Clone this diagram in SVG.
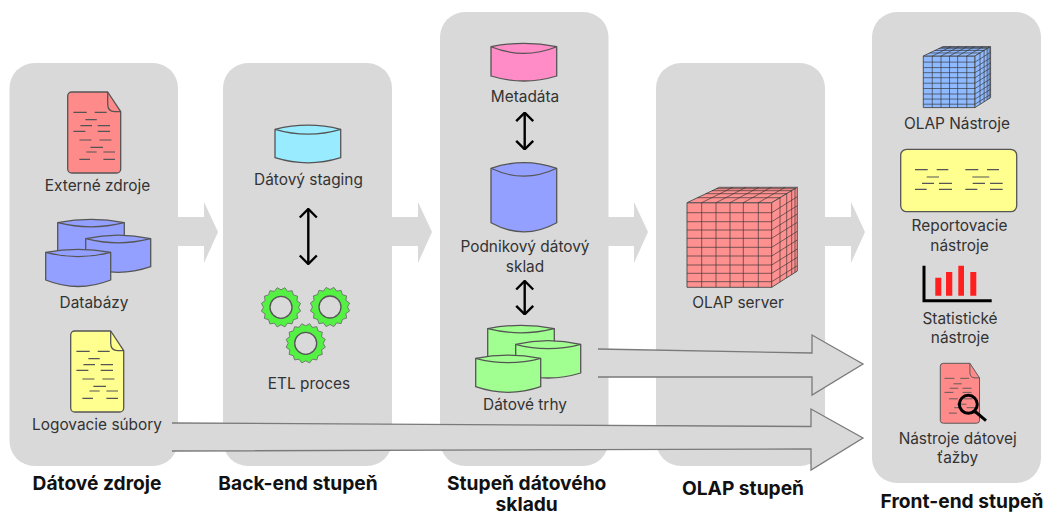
<svg xmlns="http://www.w3.org/2000/svg" xmlns:xlink="http://www.w3.org/1999/xlink" width="1045" height="513" viewBox="0 0 1045 513">
<style>
text{font-family:Inter,"Noto Sans","Liberation Sans",sans-serif;font-size:15.4px;fill:#333;text-anchor:middle}
text.b{font-weight:700;font-size:19.2px;fill:#111}
.panel{fill:#d9d9d9}
.flow{fill:#d9d9d9}
.edge{fill:none;stroke:#7a7a7a;stroke-width:1.3}
.s{stroke:#555;stroke-width:1.3;stroke-linejoin:round}
.ln{fill:none;stroke:#555;stroke-width:1.2}
.dbl{fill:none;stroke:#000;stroke-width:2.4}
.grid{fill:none;stroke:#333;stroke-width:1;stroke-opacity:.65;vector-effect:non-scaling-stroke}
.cubeface{stroke:#555;stroke-width:1;vector-effect:non-scaling-stroke}
.gear{fill:#55f044;stroke:#666;stroke-width:.8;stroke-linejoin:round}
</style>
<defs>
<marker id="open" viewBox="0 0 20 20" refX="19" refY="10" markerWidth="20" markerHeight="20" markerUnits="userSpaceOnUse" orient="auto-start-reverse"><path d="M10.500 1.500 19 10 10.500 18.500" fill="none" stroke="#000" stroke-width="2.400"/></marker>
<g id="doc">
<path class="s" d="M4 0H40L53 19.700V77a4 4 0 0 1-4 4H4a4 4 0 0 1-4-4V4a4 4 0 0 1 4-4Z"/>
<path class="s" fill="none" d="M40 0V12q0 7.700 7 7.700H53"/>
<path class="ln" d="M5.700 20.300H19M27 20.300H39M17.700 27.700H29M12.700 33.700H24.300M30 33.700H42.300M5.700 39.300H17.700M30 39.300H42.300M11.700 48H23.700M31.700 48H43.700M22.700 55.300H35.300M18.700 60H29M35.700 60H47.300M11.700 67.300H22.300M35.700 67.300H47.300"/>
</g>
<polygon id="gear" class="gear" points="17.500,0 19.600,3.900 15.900,6.600 16.600,11.100 12.400,12.400 11.100,16.600 6.600,15.900 3.900,19.600 0,17.500 -3.900,19.600 -6.600,15.900 -11.100,16.600 -12.400,12.400 -16.600,11.100 -15.900,6.600 -19.600,3.900 -17.500,0 -19.600,-3.900 -15.900,-6.600 -16.600,-11.100 -12.400,-12.400 -11.100,-16.600 -6.600,-15.900 -3.900,-19.600 0,-17.500 3.900,-19.600 6.600,-15.900 11.100,-16.600 12.400,-12.400 16.600,-11.100 15.900,-6.600 19.600,-3.900"/>
<g id="cube">
<path class="cubeface" d="M687 202.700H771.700V287.300H687Z"/>
<path class="cubeface" d="M687 202.700 719.300 187.300H797.300L771.700 202.700Z"/>
<path class="cubeface" d="M771.700 202.700 797.300 187.300V271L771.700 287.300Z"/>
<path class="grid" d="M701.700 202.700V287.300M716 202.700V287.300M730 202.700V287.300M743.300 202.700V287.300M758.300 202.700V287.300M687 212.700H771.700M687 221.700H771.700M687 230H771.700M687 238.300H771.700M687 247.300H771.700M687 256H771.700M687 265H771.700M687 273.300H771.700M687 281.700H771.700"/>
<path class="grid" d="M780 197.500V282.100M786.700 193.300V277.900M791.700 190.200V274.800M795 188.100V272.700M771.700 212.700 797.300 196.700M771.700 221.700 797.300 205.700M771.700 230 797.300 214M771.700 238.300 797.300 222.300M771.700 247.300 797.300 231.300M771.700 256 797.300 240M771.700 265 797.300 249M771.700 273.300 797.300 257.300M771.700 281.700 797.300 265.700"/>
<path class="grid" d="M701.700 202.700 732.800 187.300M716 202.700 746 187.300M730 202.700 758.900 187.300M743.300 202.700 771.100 187.300M758.300 202.700 785 187.300M697.400 197.700H780M705.800 193.700H786.700M712 190.700H791.700M716.100 188.700H795"/>
</g>
</defs>

<g id="panels">
<rect class="panel" x="9.500" y="63" width="168.500" height="403" rx="25"/>
<rect class="panel" x="223" y="63" width="169" height="403" rx="25"/>
<rect class="panel" x="440" y="12" width="168.500" height="454" rx="25"/>
<rect class="panel" x="656" y="63" width="169" height="403" rx="25"/>
<rect class="panel" x="872" y="12" width="169" height="471" rx="25"/>
</g>

<g id="connectors-back">
<polygon class="flow" points="177,217 204,217 204,202 218,232 204,263 204,246 177,246"/>
<polygon class="flow" points="391,217 418,217 418,202 432,232 418,263 418,246 391,246"/>
<polygon class="flow" points="607,217 634,217 634,202 648,232 634,263 634,246 607,246"/>
<polygon class="flow" points="824,217 851,217 851,202 865,232 851,263 851,246 824,246"/>
</g>

<g id="externe-zdroje">
<use href="#doc" transform="translate(67.700 92)" fill="#ff8a8a"/>
<text x="97.500" y="191">Externé zdroje</text>
</g>
<g id="databazy">
<path class="s" fill="#94a0ff" d="M57.700 222.700Q91 216 124.300 222.700V265H57.700Z"/>
<path class="ln" d="M57.700 222.700Q91 231 124.300 222.700"/>
<path class="s" fill="#94a0ff" d="M85.700 238.700Q118 231.500 150.700 238.700V266.700Q118 278 85.700 266.700Z"/>
<path class="ln" d="M85.700 238.700Q118 247 150.700 238.700"/>
<path class="s" fill="#94a0ff" d="M45.700 252.300Q78 246.300 110.700 252.300V280Q78 293 45.700 280Z"/>
<path class="ln" d="M45.700 252.300Q78 261 110.700 252.300"/>
<text x="94" y="307.500">Databázy</text>
</g>
<g id="logovacie-subory">
<use href="#doc" transform="translate(70.700 331)" fill="#ffff8f"/>
<text x="97" y="430">Logovacie súbory</text>
</g>

<g id="datovy-staging">
<path class="s" fill="#99ebff" d="M275 129.300Q308 121 340.700 129.300V157.700Q308 168 275 157.700Z"/>
<path class="ln" d="M275 129.300Q308 139 340.700 129.300"/>
<text x="308.500" y="184.500">Dátový staging</text>
</g>
<g id="etl-proces">
<use href="#gear" x="281" y="307.300"/>
<circle cx="281" cy="307.300" r="11" fill="#d9d9d9" stroke="#555" stroke-width="1.300"/>
<use href="#gear" x="330" y="307"/>
<circle cx="330" cy="307" r="11" fill="#d9d9d9" stroke="#555" stroke-width="1.300"/>
<use href="#gear" x="305.700" y="343.300"/>
<circle cx="305.700" cy="343.300" r="11" fill="#d9d9d9" stroke="#555" stroke-width="1.300"/>
<text x="309" y="388.500">ETL proces</text>
</g>

<g id="metadata">
<path class="s" fill="#ff8cc6" d="M491 46.700Q524 40 556.700 46.700V76Q524 86 491 76Z"/>
<path class="ln" d="M491 46.700Q524 60 556.700 46.700"/>
<text x="525" y="102">Metadáta</text>
</g>
<g id="podnikovy-datovy-sklad">
<path class="s" fill="#94a0ff" d="M491 168.300Q524 157 556.700 168.300V222.700Q524 241 491 222.700Z"/>
<path class="ln" d="M491 168.300Q524 184 556.700 168.300"/>
<text x="525" y="252">Podnikový dátový</text>
<text x="525" y="271.500">sklad</text>
</g>
<g id="datove-trhy">
<path class="s" fill="#a0ff90" d="M487.700 328.700Q521 322 554.300 328.700V372H487.700Z"/>
<path class="ln" d="M487.700 328.700Q521 337 554.300 328.700"/>
<path class="s" fill="#a0ff90" d="M515.700 344.300Q548 337 580.700 344.300V373Q548 383 515.700 373Z"/>
<path class="ln" d="M515.700 344.300Q548 353 580.700 344.300"/>
<path class="s" fill="#a0ff90" d="M475.700 358.300Q508 352 540.700 358.300V386.700Q508 398 475.700 386.700Z"/>
<path class="ln" d="M475.700 358.300Q508 367 540.700 358.300"/>
<text x="525" y="410">Dátové trhy</text>
</g>

<g id="olap-server">
<use href="#cube" fill="#ff9090"/>
<text x="738" y="307.500">OLAP server</text>
</g>

<g id="olap-nastroje">
<use href="#cube" fill="#8fbaff" transform="translate(923.300 56) scale(.61) translate(-687 -202.700)"/>
<text x="957" y="128.500">OLAP Nástroje</text>
</g>
<g id="reportovacie-nastroje">
<rect class="s" x="900.700" y="149.300" width="116" height="62.400" rx="6" fill="#ffff8f"/>
<path class="ln" d="M915 169.700H927.700M936.700 169.700H948.300M965.300 169.700H978.300M987 169.700H999M926.700 177H939M972.300 177H989.300M922 183.300H934M939 183.300H952M972.700 183.300H985M990 183.300H1002.700M915 189.300H926.700M939 189.300H952M965.300 189.300H977.300M990 189.300H1002.700"/>
<text x="959.500" y="231">Reportovacie</text>
<text x="959.500" y="250.500">nástroje</text>
</g>
<g id="statisticke-nastroje">
<path fill="none" stroke="#000" stroke-width="3" d="M924 265.700V300.700H991.700"/>
<path fill="#ff1f1f" d="M935.300 277.700h6v18h-6ZM946 272h6.300v23.700h-6.300ZM958.300 265.700h5.700v30h-5.700ZM970.300 272h6v23.700h-6Z"/>
<text x="960" y="323.500">Statistické</text>
<text x="960" y="343">nástroje</text>
</g>
<g id="nastroje-datovej-tazby">
<use href="#doc" transform="translate(940.300 363.300) scale(.74)" fill="#ff8a8a"/>
<circle cx="968.300" cy="404.300" r="9" fill="none" stroke="#000" stroke-width="3"/>
<path d="M974.500 411 986 420.700" fill="none" stroke="#000" stroke-width="3"/>
<text x="957.700" y="443.500">Nástroje dátovej</text>
<text x="957.700" y="463">ťažby</text>
</g>

<g id="connectors">
<path class="dbl" d="M308.300 209V264" marker-start="url(#open)" marker-end="url(#open)"/>
<path class="dbl" d="M524.700 112.700V149.300" marker-start="url(#open)" marker-end="url(#open)"/>
<path class="dbl" d="M524.700 281V314.300" marker-start="url(#open)" marker-end="url(#open)"/>
<polygon class="flow" points="598,349 812,353 812,335 863,364 812,395 812,377 598,377"/>
<path class="edge" d="M598 349 812 353V335L863 364 812 395V377H598"/>
<polygon class="flow" points="172,423 811,426.500 811,409 863,438 811,470 811,449 172,451"/>
<path class="edge" d="M172 423 811 426.500V409L863 438 811 470V449L172 451"/>
</g>

<g id="titles">
<text class="b" x="97" y="490">Dátové zdroje</text>
<text class="b" x="298" y="490">Back-end stupeň</text>
<text class="b" x="526.700" y="490">Stupeň dátového</text>
<text class="b" x="526.700" y="511">skladu</text>
<text class="b" x="743" y="495">OLAP stupeň</text>
<text class="b" x="962" y="508">Front-end stupeň</text>
</g>
</svg>
